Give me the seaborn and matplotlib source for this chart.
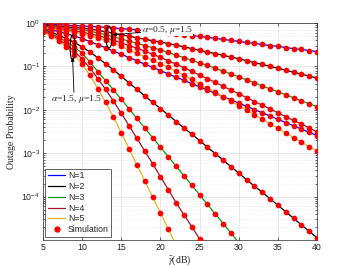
import matplotlib
matplotlib.use("Agg")
import matplotlib.pyplot as plt
from matplotlib.lines import Line2D
from matplotlib.patches import Ellipse
from matplotlib.ticker import LogLocator, NullFormatter
import pandas as pd
import seaborn as sns

# average SNR in dB, one marker per dB
snr_db = list(range(5, 41))

# alpha = 0.5, mu = 1.5
a05_n1 = [0.933, 0.923, 0.912, 0.891, 0.871, 0.851, 0.832, 0.813, 0.794, 0.767, 0.741, 0.716,
          0.692, 0.661, 0.638, 0.617, 0.589, 0.562, 0.537, 0.513, 0.490, 0.468, 0.442, 0.417,
          0.398, 0.376, 0.355, 0.339, 0.320, 0.302, 0.288, 0.272, 0.257, 0.245, 0.232, 0.219]
a05_n2 = [0.891, 0.865, 0.838, 0.813, 0.785, 0.759, 0.724, 0.676, 0.631, 0.582, 0.537, 0.495,
          0.457, 0.422, 0.389, 0.363, 0.335, 0.309, 0.282, 0.257, 0.234, 0.214, 0.197, 0.180,
          0.164, 0.150, 0.135, 0.122, 0.111, 0.100, 0.0902, 0.0813, 0.0733, 0.0661, 0.0596, 0.0537]
a05_n3 = [0.851, 0.822, 0.794, 0.759, 0.724, 0.692, 0.646, 0.589, 0.537, 0.479, 0.427, 0.380,
          0.339, 0.302, 0.269, 0.240, 0.209, 0.182, 0.158, 0.138, 0.120, 0.105, 0.0902, 0.0776,
          0.0668, 0.0575, 0.0490, 0.0417, 0.0355, 0.0302, 0.0260, 0.0221, 0.0188, 0.0160, 0.0138, 0.0117]
a05_n4 = [0.813, 0.776, 0.741, 0.700, 0.661, 0.617, 0.562, 0.513, 0.457, 0.398, 0.347, 0.302,
          0.263, 0.224, 0.191, 0.162, 0.135, 0.112, 0.0933, 0.0767, 0.0631, 0.0519, 0.0427, 0.0347,
          0.0285, 0.0234, 0.0191, 0.0155, 0.0127, 0.0105, 0.00851, 0.00692, 0.00569, 0.00468,
          0.00380, 0.00309]
a05_n5 = [0.776, 0.741, 0.700, 0.661, 0.617, 0.569, 0.513, 0.457, 0.398, 0.339, 0.288, 0.240,
          0.200, 0.166, 0.138, 0.115, 0.0955, 0.0776, 0.0631, 0.0501, 0.0398, 0.0316, 0.0251, 0.0200,
          0.0158, 0.0124, 0.00977, 0.00767, 0.00603, 0.00473, 0.00372, 0.00292, 0.00229, 0.00180,
          0.00141, 0.00111]

# alpha = 1.5, mu = 1.5 (steep curves stop once they leave the axes)
a15_n1 = [0.759, 0.692, 0.631, 0.562, 0.501, 0.437, 0.372, 0.316, 0.269, 0.224, 0.191, 0.158,
          0.135, 0.112, 0.0955, 0.0794, 0.0676, 0.0562, 0.0479, 0.0398, 0.0339, 0.0285, 0.0240,
          0.0202, 0.0170, 0.0143, 0.0120, 0.0101, 0.00851, 0.00716, 0.00603, 0.00507, 0.00427,
          0.00359, 0.00302, 0.00254]
a15_n2 = [0.708, 0.617, 0.525, 0.437, 0.355, 0.282, 0.214, 0.158, 0.115, 0.0832, 0.0589, 0.0417,
          0.0295, 0.0209, 0.0148, 0.0107, 0.00759, 0.00537, 0.00380, 0.00275, 0.00195, 0.00138,
          0.000977, 0.000692, 0.000490, 0.000347, 0.000245, 0.000174, 0.000126, 8.91e-5, 6.31e-5,
          4.47e-5, 3.16e-5, 2.24e-5, 1.58e-5, 1.12e-5]
a15_n3 = [0.676, 0.575, 0.468, 0.372, 0.282, 0.200, 0.126, 0.0759, 0.0468, 0.0288, 0.0174, 0.0105,
          0.00631, 0.00380, 0.00229, 0.00138, 0.000832, 0.000501, 0.000302, 0.000182, 0.000110,
          6.61e-5, 3.98e-5, 2.40e-5, 1.45e-5, 8.71e-6]
a15_n4 = [0.646, 0.537, 0.427, 0.316, 0.224, 0.148, 0.0912, 0.0525, 0.0295, 0.0158, 0.00832,
          0.00427, 0.00219, 0.00112, 0.000575, 0.000288, 0.000145, 7.24e-5, 3.80e-5, 2.04e-5,
          1.05e-5, 5.37e-6]
a15_n5 = [0.617, 0.501, 0.389, 0.282, 0.186, 0.112, 0.0617, 0.0309, 0.0148, 0.00676, 0.00295,
          0.00126, 0.000537, 0.000229, 9.77e-5, 4.17e-5, 1.78e-5, 7.59e-6]

n_labels = ["N=1", "N=2", "N=3", "N=4", "N=5"]
line_colors = {"N=1": "#0000ff", "N=2": "#000000", "N=3": "#0f9a0f",
               "N=4": "#a2142f", "N=5": "#edb120"}

curves = {"0.5": [a05_n1, a05_n2, a05_n3, a05_n4, a05_n5],
          "1.5": [a15_n1, a15_n2, a15_n3, a15_n4, a15_n5]}
rows = []
for alpha, group in curves.items():
    for label, vals in zip(n_labels, group):
        for g, p in zip(snr_db, vals):
            rows.append({"snr": g, "p": p, "N": label, "alpha": alpha})
df = pd.DataFrame(rows)

sns.set_theme(style="ticks")
plt.rcParams["font.family"] = ["Liberation Sans", "DejaVu Sans"]
plt.rcParams["mathtext.fontset"] = "stix"

fig = plt.figure(figsize=(3.52, 2.67), dpi=100, facecolor="white")
ax = fig.add_axes([0.122, 0.101, 0.779, 0.813])

sns.lineplot(data=df, x="snr", y="p", hue="N", units="alpha", estimator=None,
             palette=line_colors, lw=0.9, legend=False, sort=False, ax=ax)
sns.scatterplot(data=df, x="snr", y="p", color="#ff0000", s=17, linewidth=0,
                legend=False, zorder=3, ax=ax)

ax.set_yscale("log")
ax.set_xlim(5, 40)
ax.set_ylim(1e-5, 1)
ax.set_xticks(range(5, 41, 5))
ax.set_yticks([1e-4, 1e-3, 1e-2, 1e-1, 1])
ax.set_yticklabels([r"$\mathregular{10^{-4}}$", r"$\mathregular{10^{-3}}$",
                    r"$\mathregular{10^{-2}}$", r"$\mathregular{10^{-1}}$",
                    r"$\mathregular{10^{0}}$"])
ax.yaxis.set_minor_locator(LogLocator(base=10, subs=range(2, 10), numticks=20))
ax.yaxis.set_minor_formatter(NullFormatter())

ax.grid(True, which="major", color="#dedede", lw=0.5)
ax.grid(True, which="minor", axis="y", color="#e2e2e2", lw=0.4, ls=":")
ax.set_axisbelow(True)
ax.tick_params(which="both", direction="in", top=True, right=True, labelsize=6.3,
               width=0.5, color="#262626", labelcolor="#262626", pad=2)
ax.tick_params(which="major", length=2.5)
ax.tick_params(which="minor", length=1.3)
for s in ax.spines.values():
    s.set_linewidth(0.5)
    s.set_color("#262626")

ax.set_xlabel(r"$\bar{\gamma}$(dB)", fontfamily="Liberation Serif", fontsize=7, labelpad=1)
ax.set_ylabel("Outage Probability", fontfamily="Liberation Serif", fontsize=7, labelpad=4)

# ellipses and notes for the two fading groups
ax.add_patch(Ellipse((0.241, 0.935), 0.022, 0.101, transform=ax.transAxes,
                     fill=False, ec="black", lw=0.8, zorder=4))
ax.add_patch(Ellipse((0.108, 0.887), 0.018, 0.115, transform=ax.transAxes,
                     fill=False, ec="black", lw=0.8, zorder=4))
ax.annotate(r"$\alpha$=0.5, $\mu$=1.5", xy=(0.255, 0.945), xycoords="axes fraction",
            xytext=(0.36, 0.968), textcoords="axes fraction", ha="left", va="center",
            fontfamily="Liberation Serif", fontsize=6.8, zorder=5,
            bbox=dict(fc="white", ec="none", pad=0.3),
            arrowprops=dict(arrowstyle="-|>", color="black", lw=0.6, mutation_scale=5,
                            shrinkA=0, shrinkB=0))
ax.text(0.03, 0.65, r"$\alpha$=1.5, $\mu$=1.5", transform=ax.transAxes, ha="left",
        va="center", fontfamily="Liberation Serif", fontsize=6.8, zorder=5)
ax.annotate("", xy=(0.108, 0.84), xycoords="axes fraction", xytext=(0.113, 0.68),
            textcoords="axes fraction",
            arrowprops=dict(arrowstyle="-|>", color="black", lw=0.6, mutation_scale=5,
                            shrinkA=0, shrinkB=0))

handles = [Line2D([], [], color=line_colors[n], lw=0.9) for n in n_labels]
handles.append(Line2D([], [], ls="none", marker="o", color="#ff0000", markersize=3.5))
leg = ax.legend(handles, n_labels + ["Simulation"], loc="lower left",
                bbox_to_anchor=(0.008, 0.015), borderaxespad=0, fontsize=6.3,
                handlelength=2.0, handletextpad=0.3, labelspacing=0.2, borderpad=0.3,
                fancybox=False, framealpha=1, edgecolor="#262626")
leg.get_frame().set_linewidth(0.5)

fig.savefig("out.png", dpi=100)
